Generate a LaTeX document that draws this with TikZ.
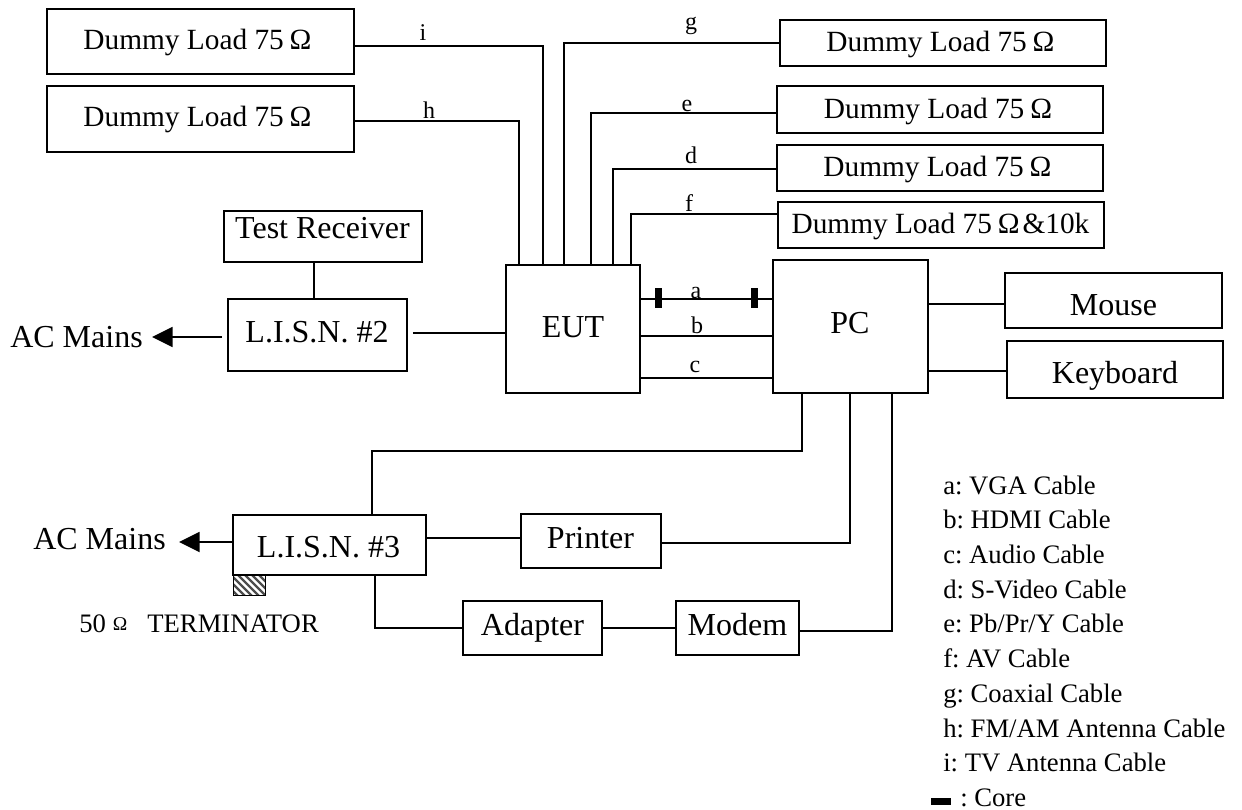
\documentclass[tikz,border=0pt]{standalone}
\usepackage{fontspec}
\setmainfont{Liberation Serif}
\usetikzlibrary{arrows.meta}
\AtBeginDocument{\frenchspacing}
% [options]{name}{x1}{y1}{x2}{y2}{text centre x}{text baseline y}{text}
\newcommand{\bx}[9][]{%
  \pgfmathsetmacro{\bxw}{(#5-#3)*0.75}%
  \pgfmathsetmacro{\bxh}{(#6-#4)*0.75}%
  \pgfmathsetmacro{\bxx}{(#3+#5)/2}%
  \pgfmathsetmacro{\bxy}{(#4+#6)/2}%
  \pgfmathsetmacro{\bxs}{(#7-\bxx)*1.5}%
  \pgfmathsetmacro{\bxr}{(\bxy-#8)*0.75}%
  \node[boxnode,minimum width=\bxw pt,minimum height=\bxh pt,#1] (#2) at (\bxx,\bxy) {\hspace*{\bxs pt}\raisebox{\bxr pt}{#9}};}
\newcommand{\OM}{\hspace{0.2em}Ω}
\tikzset{
  boxnode/.style={draw=black,line width=1.4pt,inner sep=0pt,text height=0pt,text depth=0pt,font=\fontsize{22pt}{24pt}\selectfont},
  bigtext/.style={font=\fontsize{24pt}{26pt}\selectfont},
  wire/.style={draw=black,line width=1.4pt},
  mainsarrow/.style={wire,-{Triangle[length=15.5pt,width=15pt]}},
  corebar/.style={fill=black,draw=none,inner sep=0pt,minimum width=5.6pt,minimum height=15pt},
  wirelabel/.style={font=\fontsize{18pt}{20pt}\selectfont,inner sep=0pt,anchor=base},
  legendtext/.style={font=\fontsize{20pt}{22pt}\selectfont,inner sep=0pt,anchor=base west},
  freetext/.style={font=\fontsize{24pt}{26pt}\selectfont,inner sep=0pt,anchor=base west}
}
\begin{document}
\begin{tikzpicture}[x=0.75pt,y=-0.75pt]
\useasboundingbox (0,0) rectangle (1242,810);
% boxes
\bx{di}{47}{9}{354}{74}{197.5}{49}{Dummy Load 75\OM}
\bx{dh}{47}{86}{354}{152}{197.5}{126}{Dummy Load 75\OM}
\bx{dg}{780}{20}{1106}{66}{940.5}{51}{Dummy Load 75\OM}
\bx{de}{777}{86}{1103}{133}{938}{118}{Dummy Load 75\OM}
\bx{dd}{777}{145}{1103}{191}{937.5}{176}{Dummy Load 75\OM}
\bx{df}{778}{202}{1104}{248}{940.5}{233}{Dummy Load 75\OM\hspace{0.1em}\&10k}
\bx[bigtext]{tr}{224}{211}{422}{262}{322.5}{238}{Test Receiver}
\bx[bigtext]{l2}{228}{299}{407}{371}{317}{342}{L.I.S.N. \#2}
\bx[bigtext]{eut}{506}{265}{640}{393}{573}{337}{EUT}
\bx[bigtext]{pc}{773}{260}{928}{393}{850}{333}{PC}
\bx[bigtext]{mouse}{1005}{273}{1222}{328}{1113.5}{315}{Mouse}
\bx[bigtext]{kbd}{1007}{341}{1223}{398}{1115}{383}{Keyboard}
\bx[bigtext]{l3}{233}{515}{426}{575}{328.5}{557}{L.I.S.N. \#3}
\bx[bigtext]{printer}{521}{514}{661}{568}{590.5}{548}{Printer}
\bx[bigtext]{adapter}{463}{601}{602}{655}{532.5}{635}{Adapter}
\bx[bigtext]{modem}{676}{601}{799}{655}{737.5}{635}{Modem}
% terminator
\node[draw=black,line width=0.8pt,inner sep=0pt,minimum width=24.5pt,minimum height=15.5pt,
  path picture={\foreach \hx in {-36,-29,...,36}{\draw[black!70,line width=1.7pt] (\hx-14,-14) -- (\hx+14,14);}}] (term) at (249.5,585.5) {};
% attachment points
\coordinate (ei) at (543,265);
\coordinate (eh) at (519,265);
\coordinate (eg) at (564,265);
\coordinate (ee) at (591,265);
\coordinate (ed) at (613,265);
\coordinate (ef) at (631,265);
\coordinate (pc1) at (802,392);
\coordinate (pc2) at (850,392);
\coordinate (pc3) at (892,392);
\coordinate (tip1) at (152,337);
\coordinate (tip2) at (179,542);
% wires top
\draw[wire] (di.east |- 0,46) -| (ei);
\draw[wire] (dh.east |- 0,121) -| (eh);
\draw[wire] (dg.west |- 0,43) -| (eg);
\draw[wire] (de.west |- 0,113) -| (ee);
\draw[wire] (dd.west |- 0,169) -| (ed);
\draw[wire] (df.west |- 0,214) -| (ef);
% wires EUT-PC
\draw[wire] (eut.east |- 0,299) -- (pc.west |- 0,299);
\draw[wire] (eut.east |- 0,336) -- (pc.west |- 0,336);
\draw[wire] (eut.east |- 0,378) -- (pc.west |- 0,378);
\node[corebar] (core1) at (658.5,298) {};
\node[corebar] (core2) at (754.5,298) {};
% wires right
\draw[wire] (pc.east |- 0,304) -- (mouse.west |- 0,304);
\draw[wire] (pc.east |- 0,371) -- (kbd.west |- 0,371);
% left side
\draw[wire] (tr.south -| 314,0) -- (l2.north -| 314,0);
\draw[wire,shorten <=3.75pt] (l2.east |- 0,333) -- (eut.west |- 0,333);
\node[freetext] (ac1) at (10,347) {AC Mains};
\node[freetext] (ac2) at (33,549) {AC Mains};
\draw[mainsarrow,shorten <=3.75pt] (l2.west |- 0,337) -- (tip1);
\draw[mainsarrow] (l3.west |- 0,542) -- (tip2);
% bottom
\draw[wire] (l3.north -| 372,0) -- (372,451) -| (pc1);
\draw[wire] (l3.east |- 0,538) -- (printer.west |- 0,538);
\draw[wire] (printer.east |- 0,543) -| (pc2);
\draw[wire] (l3.south -| 375,0) |- (adapter.west |- 0,628);
\draw[wire] (adapter.east |- 0,628) -- (modem.west |- 0,628);
\draw[wire] (modem.east |- 0,631) -| (pc3);
% wire labels
\node[wirelabel] (li) at (423,40) {i};
\node[wirelabel] (lh) at (429,118) {h};
\node[wirelabel] (lg) at (691,29) {g};
\node[wirelabel] (le) at (687,111) {e};
\node[wirelabel] (ld) at (691,163) {d};
\node[wirelabel] (lf) at (689,211) {f};
\node[wirelabel] (la) at (696,298) {a};
\node[wirelabel] (lb) at (697,333) {b};
\node[wirelabel] (lc) at (695,372) {c};
% terminator text
\node[legendtext] (tt) at (79,632) {50\hspace{5.25pt}{\fontsize{14.6pt}{15pt}\selectfont\raisebox{1.5pt}{Ω}}\hspace{15pt}TERMINATOR};
% legend
\node[legendtext] (k1) at (943,494) {a: VGA Cable};
\node[legendtext] (k2) at (943,528) {b: HDMI Cable};
\node[legendtext] (k3) at (943,563) {c: Audio Cable};
\node[legendtext] (k4) at (943,598) {d: S-Video Cable};
\node[legendtext] (k5) at (943,632) {e: Pb/Pr/Y Cable};
\node[legendtext] (k6) at (943,667) {f: AV Cable};
\node[legendtext] (k7) at (943,702) {g: Coaxial Cable};
\node[legendtext] (k8) at (943,737) {h: FM/AM Antenna Cable};
\node[legendtext] (k9) at (943,771) {i: TV Antenna Cable};
\node[fill=black,draw=none,inner sep=0pt,minimum width=15pt,minimum height=5.2pt] (k10b) at (941,801.5) {};
\node[legendtext] (k10) at (960,806) {: Core};
\end{tikzpicture}
\end{document}
